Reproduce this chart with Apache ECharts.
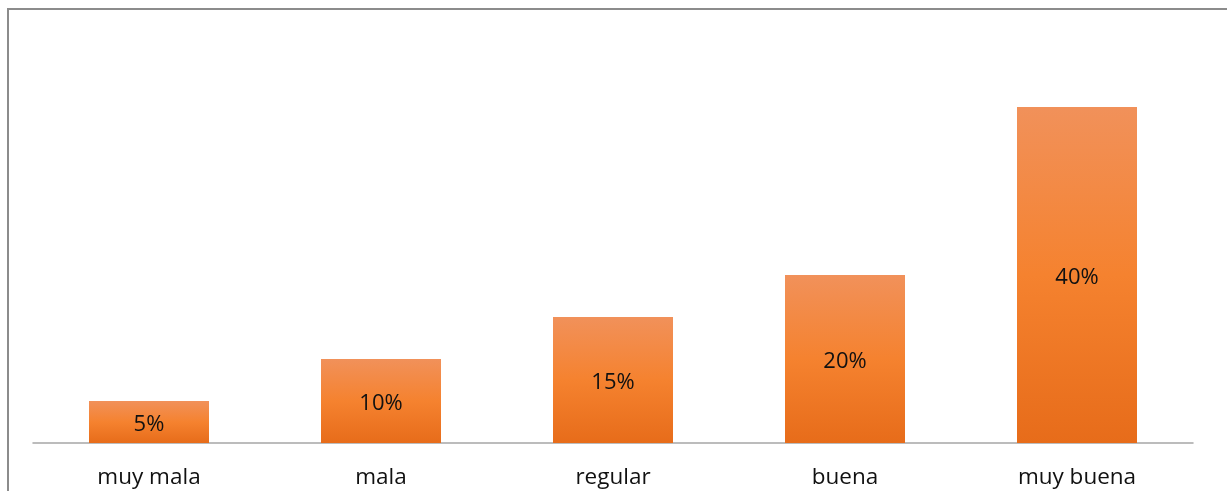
<!DOCTYPE html>
<html>
<head>
<meta charset="utf-8">
<script src="https://cdn.jsdelivr.net/npm/echarts@6/dist/echarts.min.js"></script>
<style>
  html, body { margin: 0; padding: 0; background: #fff; }
  #chart { width: 1227px; height: 491px; }
</style>
</head>
<body>
<div id="chart"></div>
<script>
// categorías y porcentajes
var categorias = ['muy mala', 'mala', 'regular', 'buena', 'muy buena'];
var porcentajes = [5, 10, 15, 20, 40];

var chart = echarts.init(document.getElementById('chart'));
chart.setOption({
    animation: false,
    textStyle: { fontFamily: 'Open Sans' },
    grid: { left: 33, right: 34, top: 65, bottom: 48 },
    // marco del área del gráfico
    graphic: [{
        type: 'polyline',
        shape: { points: [[8, 491], [8, 9], [1227, 9]] },
        style: { stroke: '#8c8c8c', lineWidth: 2, fill: null }
    }],
    xAxis: {
        type: 'category',
        data: categorias,
        axisLine: { lineStyle: { color: '#a6a6a6', width: 1.5 } },
        axisTick: { show: false },
        axisLabel: { color: '#111', fontSize: 22.5, margin: 23 }
    },
    yAxis: {
        type: 'value',
        min: 0,
        max: 45,
        show: false,
        splitLine: { show: false }
    },
    series: [{
        type: 'bar',
        data: porcentajes,
        barWidth: 120,
        itemStyle: {
            color: new echarts.graphic.LinearGradient(0, 0, 0, 1, [
                { offset: 0, color: '#f1915a' },
                { offset: 0.5, color: '#f5822f' },
                { offset: 1, color: '#e76c1a' }
            ])
        },
        label: {
            show: true,
            position: 'inside',
            offset: [0, 3],
            color: '#111',
            fontSize: 22,
            formatter: '{c}%'
        }
    }]
});
</script>
</body>
</html>
